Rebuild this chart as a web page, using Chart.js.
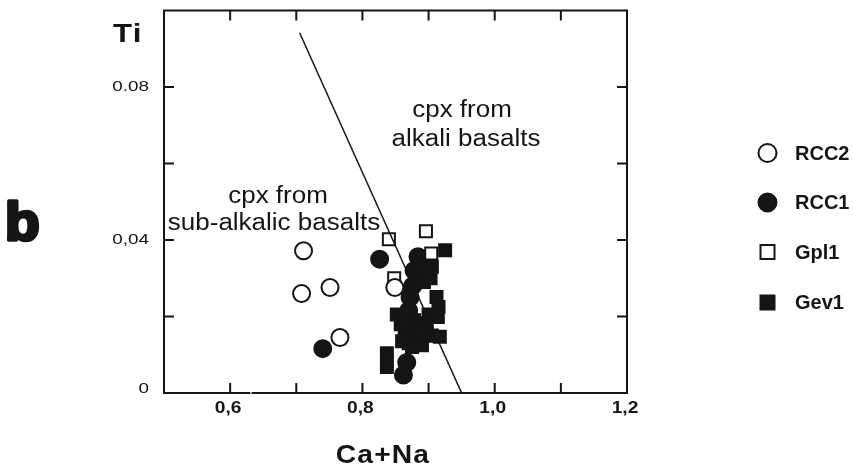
<!DOCTYPE html>
<html>
<head>
<meta charset="utf-8">
<script src="https://cdn.jsdelivr.net/npm/chart.js@4/dist/chart.umd.min.js"></script>
<style>
  html, body { margin: 0; padding: 0; background: #fff; }
  #wrap { width: 853px; height: 469px; }
</style>
</head>
<body>
<div id="wrap"><canvas id="chart" width="853" height="469"></canvas></div>
<script>
// Ti vs Ca+Na in clinopyroxene (panel b)
const seriesNames = ['RCC2', 'RCC1', 'Gpl1', 'Gev1'];

const rcc2X = [0.711, 0.708, 0.751, 0.766, 0.849];
const rcc2Y = [0.0372, 0.0260, 0.0276, 0.0145, 0.0276];

const rcc1X = [0.740, 0.826, 0.884, 0.878, 0.872, 0.870, 0.867, 0.862, 0.890, 0.876, 0.863];
const rcc1Y = [0.0116, 0.0350, 0.0356, 0.0320, 0.0250, 0.0215, 0.0080, 0.0047, 0.0330, 0.0280, 0.0190];

const gpl1X = [0.840, 0.896, 0.848, 0.904];
const gpl1Y = [0.0402, 0.0423, 0.0300, 0.0365];

const gev1X = [0.925, 0.905, 0.903, 0.912, 0.914, 0.917, 0.852, 0.864, 0.880, 0.897,
               0.870, 0.885, 0.837, 0.837, 0.897, 0.878, 0.892, 0.893, 0.858, 0.875,
               0.890, 0.905, 0.915, 0.860, 0.900];
const gev1Y = [0.0373, 0.0330, 0.0300, 0.0251, 0.0199, 0.0147, 0.0205, 0.0156, 0.0165, 0.0182,
               0.0130, 0.0140, 0.0104, 0.0068, 0.0160, 0.0190, 0.0345, 0.0290, 0.0180, 0.0120,
               0.0125, 0.0150, 0.0225, 0.0135, 0.0205];

// boundary between the two cpx fields
const dividerX = [0.705, 0.95];
const dividerY = [0.0942, 0];

// axes
const xTickValues = [0.6, 0.7, 0.8, 0.9, 1.0, 1.1];
const yTickValues = [0.02, 0.04, 0.06, 0.08];
const xLabelValues = [0.6, 0.8, 1.0, 1.2];
const xLabelTexts = ['0,6', '0,8', '1,0', '1,2'];
const yLabelValues = [0, 0.04, 0.08];
const yLabelTexts = ['0', '0,04', '0.08'];
const axisGap = [0.629, 0.634];   // small break in the bottom axis line

const INK = '#151515';
const FONT = '"Liberation Sans", Arial, Helvetica, sans-serif';

function toPoints(xs, ys) {
    return xs.map((x, i) => ({ x: x, y: ys[i] }));
}

function stretchText(ctx, text, x, y, font, sx, align, baseline, spacing) {
    ctx.save();
    ctx.font = font;
    ctx.fillStyle = INK;
    ctx.textAlign = align;
    ctx.textBaseline = baseline;
    if (spacing) ctx.letterSpacing = spacing;
    ctx.translate(x, y);
    ctx.scale(sx, 1);
    ctx.fillText(text, 0, 0);
    ctx.restore();
}

// frame, inward ticks, labels, field names and legend
const decorPlugin = {
    id: 'decor',
    afterDatasetsDraw(chart) {
        const ctx = chart.ctx;
        const xs = chart.scales.x;
        const ys = chart.scales.y;
        const a = chart.chartArea;
        const tick = 10;

        ctx.save();
        ctx.strokeStyle = INK;
        ctx.lineWidth = 2;
        ctx.lineCap = 'square';
        ctx.beginPath();
        ctx.moveTo(xs.getPixelForValue(axisGap[0]), a.bottom);
        ctx.lineTo(a.left, a.bottom);
        ctx.lineTo(a.left, a.top);
        ctx.lineTo(a.right, a.top);
        ctx.lineTo(a.right, a.bottom);
        ctx.lineTo(xs.getPixelForValue(axisGap[1]), a.bottom);
        ctx.stroke();

        ctx.lineCap = 'butt';
        ctx.beginPath();
        xTickValues.forEach(v => {
            const px = xs.getPixelForValue(v);
            ctx.moveTo(px, a.bottom); ctx.lineTo(px, a.bottom - tick);
            ctx.moveTo(px, a.top); ctx.lineTo(px, a.top + tick);
        });
        yTickValues.forEach(v => {
            const py = ys.getPixelForValue(v);
            ctx.moveTo(a.left, py); ctx.lineTo(a.left + tick, py);
            ctx.moveTo(a.right, py); ctx.lineTo(a.right - tick, py);
        });
        ctx.stroke();
        ctx.restore();

        // tick labels
        xLabelValues.forEach((v, i) => {
            stretchText(ctx, xLabelTexts[i], xs.getPixelForValue(v) - 2, a.bottom + 16,
                'bold 16px ' + FONT, 1.2, 'center', 'middle');
        });
        yLabelValues.forEach((v, i) => {
            const py = ys.getPixelForValue(v) - (v === 0 ? 4 : 0);
            stretchText(ctx, yLabelTexts[i], a.left - 15, py,
                '14px ' + FONT, 1.35, 'right', 'middle');
        });

        // axis titles
        stretchText(ctx, 'Ca+Na', 383, 463, 'bold 25px ' + FONT, 1.13, 'center', 'alphabetic', '1px');
        stretchText(ctx, 'Ti', 113, 42, 'bold 26px ' + FONT, 1.2, 'left', 'alphabetic', '1px');

        // panel letter
        ctx.save();
        ctx.font = 'bold 54px ' + FONT;
        ctx.fillStyle = INK;
        ctx.strokeStyle = INK;
        ctx.lineWidth = 3.5;
        ctx.lineJoin = 'round';
        ctx.textBaseline = 'alphabetic';
        ctx.translate(5, 240);
        ctx.scale(1.05, 1);
        ctx.fillText('b', 0, 0);
        ctx.strokeText('b', 0, 0);
        ctx.restore();

        // field names
        const fieldFont = '23px ' + FONT;
        stretchText(ctx, 'cpx from', 462, 117, fieldFont, 1.13, 'center', 'alphabetic');
        stretchText(ctx, 'alkali basalts', 466, 146, fieldFont, 1.13, 'center', 'alphabetic');
        stretchText(ctx, 'cpx from', 278, 203, fieldFont, 1.13, 'center', 'alphabetic');
        stretchText(ctx, 'sub-alkalic basalts', 274, 230, fieldFont, 1.13, 'center', 'alphabetic');

        // legend
        const rowY = [153, 202.5, 252, 302.5];
        const mx = 767.5;
        chart.data.datasets.filter(d => seriesNames.includes(d.label)).forEach(d => {
            const i = seriesNames.indexOf(d.label);
            const y = rowY[i];
            ctx.save();
            ctx.lineWidth = 2;
            ctx.strokeStyle = INK;
            ctx.fillStyle = d.backgroundColor;
            ctx.beginPath();
            if (d.pointStyle === 'circle') {
                ctx.arc(mx, y, 9, 0, Math.PI * 2);
            } else {
                ctx.rect(mx - 7, y - 7, 14, 14);
            }
            ctx.fill();
            ctx.stroke();
            ctx.restore();
            stretchText(ctx, d.label, 795, y + 1, 'bold 20px ' + FONT, 1.0, 'left', 'middle');
        });
    }
};

const markerBase = {
    showLine: false,
    pointRadius: 8.5,
    pointBorderWidth: 2,
    borderColor: INK,
    pointBorderColor: INK,
    clip: false
};

new Chart(document.getElementById('chart'), {
    type: 'scatter',
    data: {
        datasets: [
            {
                label: 'divider',
                data: toPoints(dividerX, dividerY),
                showLine: true,
                borderColor: INK,
                borderWidth: 1.5,
                pointRadius: 0,
                order: 0
            },
            Object.assign({}, markerBase, {
                label: 'RCC2', data: toPoints(rcc2X, rcc2Y),
                pointStyle: 'circle', backgroundColor: '#ffffff', pointBackgroundColor: '#ffffff', order: 1
            }),
            Object.assign({}, markerBase, {
                label: 'RCC1', data: toPoints(rcc1X, rcc1Y),
                pointStyle: 'circle', backgroundColor: INK, pointBackgroundColor: INK, order: 2
            }),
            Object.assign({}, markerBase, {
                label: 'Gpl1', data: toPoints(gpl1X, gpl1Y),
                pointStyle: 'rect', backgroundColor: '#ffffff', pointBackgroundColor: '#ffffff', order: 1
            }),
            Object.assign({}, markerBase, {
                label: 'Gev1', data: toPoints(gev1X, gev1Y),
                pointStyle: 'rect', backgroundColor: INK, pointBackgroundColor: INK, order: 2
            })
        ]
    },
    options: {
        responsive: false,
        animation: false,
        devicePixelRatio: 1,
        layout: { padding: { left: 164, right: 226, top: 10, bottom: 76 } },
        scales: {
            x: { type: 'linear', min: 0.5, max: 1.2, display: false },
            y: { type: 'linear', min: 0, max: 0.1, display: false }
        },
        plugins: {
            legend: { display: false },
            tooltip: { enabled: false }
        }
    },
    plugins: [decorPlugin]
});
</script>
</body>
</html>
